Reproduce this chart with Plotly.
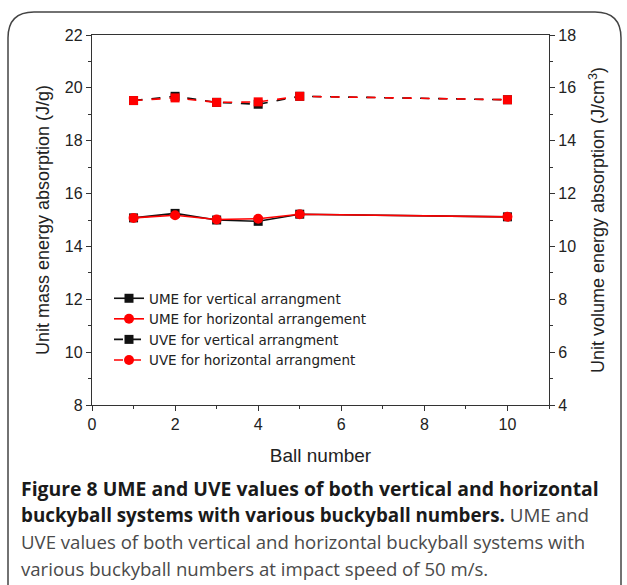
import plotly.graph_objects as go

# data
ball_number = [1, 2, 3, 4, 5, 10]
ume_vertical = [15.08, 15.25, 15.0, 14.95, 15.22, 15.12]
ume_horizontal = [15.08, 15.18, 15.02, 15.05, 15.22, 15.12]
uve_vertical = [15.52, 15.68, 15.45, 15.38, 15.68, 15.55]
uve_horizontal = [15.52, 15.62, 15.45, 15.47, 15.68, 15.55]

x_ticks = [0, 2, 4, 6, 8, 10]
left_ticks = [8, 10, 12, 14, 16, 18, 20, 22]
right_ticks = [4, 6, 8, 10, 12, 14, 16, 18]

RED = "#FF0000"
BLACK = "#111111"
AXIS = "#333333"
FONT = "Liberation Sans, Arial, sans-serif"
CAP_FONT = "Open Sans, Noto Sans, sans-serif"

# plot area in pixels
L, R, T, B = 92, 549, 35, 405
W, H = 627, 585


def px(x):
    return (x - L) / (R - L)


def py(y):
    return (B - y) / (B - T)


fig = go.Figure()
fig.add_trace(go.Scatter(
    x=ball_number, y=ume_vertical, name="UME for vertical arrangment",
    mode="lines+markers", line={"color": BLACK, "width": 1.6},
    marker={"symbol": "square", "size": 9, "color": BLACK},
))
fig.add_trace(go.Scatter(
    x=ball_number, y=ume_horizontal, name="UME for horizontal arrangement",
    mode="lines+markers", line={"color": RED, "width": 1.6},
    marker={"symbol": "circle", "size": 10, "color": RED},
))
fig.add_trace(go.Scatter(
    x=ball_number, y=uve_vertical, name="UVE for vertical arrangment",
    mode="lines+markers", line={"color": BLACK, "width": 1.6, "dash": "dash"},
    marker={"symbol": "square", "size": 9, "color": BLACK}, yaxis="y2",
))
fig.add_trace(go.Scatter(
    x=ball_number, y=uve_horizontal, name="UVE for horizontal arrangment",
    mode="lines+markers", line={"color": RED, "width": 1.6, "dash": "dash"},
    marker={"symbol": "square", "size": 9, "color": RED}, yaxis="y2",
    showlegend=False,
))
# legend entry for the last series shows a circle in the original
fig.add_trace(go.Scatter(
    x=[None], y=[None], name="UVE for horizontal arrangment",
    mode="lines+markers", line={"color": RED, "width": 1.6, "dash": "dash"},
    marker={"symbol": "circle", "size": 10, "color": RED}, yaxis="y2",
))

axis_common = dict(
    showgrid=False, zeroline=False, showline=True, linecolor=AXIS, linewidth=1.3,
    ticks="outside", ticklen=5, tickwidth=1.3, tickcolor=AXIS,
    tickfont={"size": 16, "color": "#222222", "family": FONT},
    minor={"ticks": "outside", "ticklen": 3, "tickwidth": 1.2, "tickcolor": AXIS, "dtick": 1},
)

border = (
    f"M {px(8)},{py(590)} L {px(8)},{py(38)} Q {px(8)},{py(12)} {px(34)},{py(12)} "
    f"L {px(595)},{py(12)} Q {px(621)},{py(12)} {px(621)},{py(38)} L {px(621)},{py(590)}"
)

fig.update_layout(
    width=W, height=H,
    margin={"l": L, "r": W - R, "t": T, "b": H - B},
    plot_bgcolor="white", paper_bgcolor="white",
    font={"family": FONT, "color": "#222222"},
    showlegend=True,
    legend={
        "x": px(109), "y": py(283), "xanchor": "left", "yanchor": "top",
        "bgcolor": "rgba(0,0,0,0)",
        "font": {"size": 13.5, "family": "DejaVu Sans, sans-serif", "color": "#222222"},
        "itemwidth": 30, "tracegroupgap": 0,
    },
    xaxis=dict(
        **axis_common, range=[0, 11], tickvals=x_ticks, mirror=True,
        title={"text": "Ball number", "font": {"size": 19, "family": FONT}, "standoff": 16},
    ),
    yaxis=dict(
        **axis_common, range=[8, 22], tickvals=left_ticks,
        title={"text": "Unit mass energy absorption (J/g)", "font": {"size": 18, "family": FONT},
               "standoff": 10},
    ),
    yaxis2=dict(
        **axis_common, range=[4, 18], tickvals=right_ticks, overlaying="y", side="right",
        title={"text": "Unit volume energy absorption (J/cm<sup>3</sup>)",
               "font": {"size": 18, "family": FONT}, "standoff": 16},
    ),
    shapes=[dict(type="path", path=border, xref="paper", yref="paper",
                 line={"color": "#444444", "width": 1.5})],
)

caption = [
    "<b>Figure 8 UME and UVE values of both vertical and horizontal</b>",
    "<b>buckyball systems with various buckyball numbers.</b> "
    "<span style='color:#4a4a4a'>UME and</span>",
    "<span style='color:#4a4a4a'>UVE values of both vertical and horizontal buckyball systems with</span>",
    "<span style='color:#4a4a4a'>various buckyball numbers at impact speed of 50 m/s.</span>",
]
for i, line in enumerate(caption):
    fig.add_annotation(
        text=line, xref="paper", yref="paper", x=px(19), y=py(488 + 26.7 * i),
        xanchor="left", yanchor="middle", showarrow=False,
        font={"size": 19.4 if i == 0 else (18.8 if i == 1 else 18.6),
              "family": CAP_FONT, "color": "#1a1a1a"},
    )

fig.write_html("out.html", config={"displayModeBar": False},
               post_script="document.body.style.margin = '0';")
